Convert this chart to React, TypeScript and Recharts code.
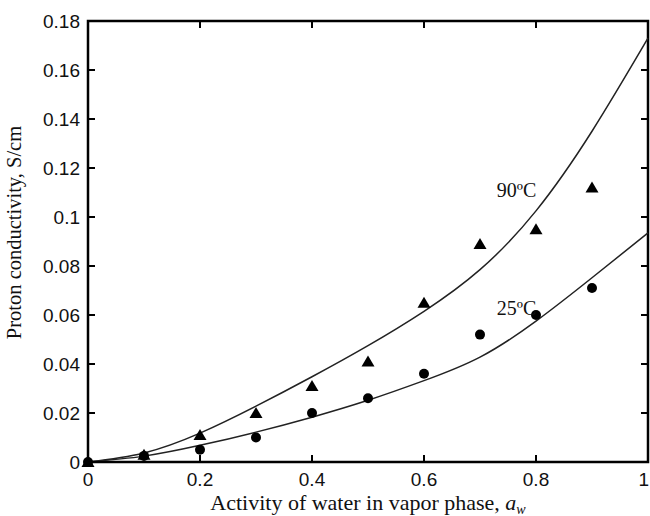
import React from "react";
import {
  ComposedChart,
  Line,
  Scatter,
  XAxis,
  YAxis,
  ReferenceDot,
  ReferenceArea,
} from "recharts";

// water activity grid for the fitted curves
const fitX = [0, 0.1, 0.2, 0.3, 0.4, 0.5, 0.6, 0.7, 0.8, 0.9, 1.0];
const fit90 = [0, 0.0037, 0.0118, 0.0228, 0.0348, 0.0475, 0.0615, 0.0785, 0.1025, 0.135, 0.173];
const fit25 = [0, 0.0024, 0.0068, 0.0122, 0.0183, 0.0252, 0.0332, 0.0428, 0.0575, 0.0752, 0.0935];

// measured points
const measX = [0, 0.1, 0.2, 0.3, 0.4, 0.5, 0.6, 0.7, 0.8, 0.9];
const meas90 = [0, 0.003, 0.011, 0.02, 0.031, 0.041, 0.065, 0.089, 0.095, 0.112];
const meas25 = [0, 0.0025, 0.005, 0.01, 0.02, 0.026, 0.036, 0.052, 0.06, 0.071];

const xTicks = [0, 0.2, 0.4, 0.6, 0.8, 1];
const yTicks = [0, 0.02, 0.04, 0.06, 0.08, 0.1, 0.12, 0.14, 0.16, 0.18];

const curve90 = fitX.map((x, i) => ({ x, y: fit90[i] }));
const curve25 = fitX.map((x, i) => ({ x, y: fit25[i] }));
const pts90 = measX.map((x, i) => ({ x, y: meas90[i] }));
const pts25 = measX.map((x, i) => ({ x, y: meas25[i] }));

const SANS = "'Liberation Sans', Arial, sans-serif";
const SERIF = "'Liberation Serif', 'Times New Roman', serif";
const TICK = 7;
const INK = "#000";

// chart box (body margin is removed so the svg fills the page)
const W = 650;
const H = 516;
const M = { top: 21, right: 2, bottom: 0, left: 0 };
const Y_AXIS_W = 88;
const X_AXIS_H = 54;
const PLOT_W = W - M.left - M.right - Y_AXIS_W;
const PLOT_H = H - M.top - M.bottom - X_AXIS_H;

// bottom ticks also draw the mirrored tick on the top frame
const BottomTick = (p: any) => {
  const last = p.payload.value === 1;
  return (
    <g>
      <path
        d={`M${p.x},${p.y}V${p.y - TICK}M${p.x},${p.y - PLOT_H}V${p.y - PLOT_H + TICK}`}
        stroke={INK}
        strokeWidth={2}
        fill="none"
      />
      <text
        x={last ? p.x + 1 : p.x}
        y={p.y + 24}
        textAnchor={last ? "end" : "middle"}
        fontFamily={SANS}
        fontSize={19}
        fill="#111"
      >
        {p.payload.value}
      </text>
    </g>
  );
};

// left ticks also draw the mirrored tick on the right frame
const LeftTick = (p: any) => (
  <g>
    <path
      d={`M${p.x},${p.y}H${p.x + TICK}M${p.x + PLOT_W},${p.y}H${p.x + PLOT_W - TICK}`}
      stroke={INK}
      strokeWidth={2}
      fill="none"
    />
    <text x={p.x - 8} y={p.y + 7} textAnchor="end" fontFamily={SANS} fontSize={19} fill="#111">
      {p.payload.value}
    </text>
  </g>
);

const Triangle = (p: any) => (
  <polygon
    points={`${p.cx},${p.cy - 6} ${p.cx - 6.5},${p.cy + 5} ${p.cx + 6.5},${p.cy + 5}`}
    fill={INK}
  />
);

const Dot = (p: any) => <circle cx={p.cx} cy={p.cy} r={5} fill={INK} />;

const curveLabel = (text: string) => (p: any) => (
  <text x={p.viewBox.x} y={p.viewBox.y} fontFamily={SERIF} fontSize={20} fill="#111">
    {text}
  </text>
);

export default function App() {
  return (
    <>
      <style>{"body{margin:0;overflow:hidden}"}</style>
      <ComposedChart width={W} height={H} margin={M}>
        <XAxis
          type="number"
          dataKey="x"
          domain={[0, 1]}
          ticks={xTicks}
          interval={0}
          height={X_AXIS_H}
          tickSize={0}
          tickMargin={0}
          tickLine={false}
          tick={BottomTick}
          axisLine={{ stroke: INK, strokeWidth: 2 }}
          label={(p: any) => (
            <text
              x={p.viewBox.x + p.viewBox.width / 2}
              y={p.viewBox.y + 48}
              textAnchor="middle"
              fontFamily={SERIF}
              fontSize={22}
              fill="#111"
            >
              Activity of water in vapor phase,{"  "}
              <tspan fontStyle="italic">a</tspan>
              <tspan fontStyle="italic" fontSize={14} dy={4}>w</tspan>
            </text>
          )}
        />
        <YAxis
          type="number"
          domain={[0, 0.18]}
          ticks={yTicks}
          interval={0}
          width={Y_AXIS_W}
          tickSize={0}
          tickMargin={0}
          tickLine={false}
          tick={LeftTick}
          axisLine={{ stroke: INK, strokeWidth: 2 }}
          label={(p: any) => {
            const cx = p.viewBox.x + 21;
            const cy = p.viewBox.y + p.viewBox.height / 2 - 9;
            return (
              <text
                x={cx}
                y={cy}
                transform={`rotate(-90, ${cx}, ${cy})`}
                textAnchor="middle"
                fontFamily={SERIF}
                fontSize={20.5}
                fill="#111"
              >
                Proton conductivity, S/cm
              </text>
            );
          }}
        />

        {/* frame around the plot */}
        <ReferenceArea
          x1={0}
          x2={1}
          y1={0}
          y2={0.18}
          fill="none"
          fillOpacity={0}
          stroke={INK}
          strokeOpacity={1}
          strokeWidth={2.5}
        />

        <Line data={curve90} dataKey="y" type="natural" stroke="#222" strokeWidth={1.5} dot={false} isAnimationActive={false} />
        <Line data={curve25} dataKey="y" type="natural" stroke="#222" strokeWidth={1.5} dot={false} isAnimationActive={false} />
        <Scatter data={pts90} dataKey="y" shape={Triangle} isAnimationActive={false} />
        <Scatter data={pts25} dataKey="y" shape={Dot} isAnimationActive={false} />

        <ReferenceDot x={0.73} y={0.108} r={0} fill="none" stroke="none" label={curveLabel("90ºC")} />
        <ReferenceDot x={0.73} y={0.06} r={0} fill="none" stroke="none" label={curveLabel("25ºC")} />
      </ComposedChart>
    </>
  );
}
